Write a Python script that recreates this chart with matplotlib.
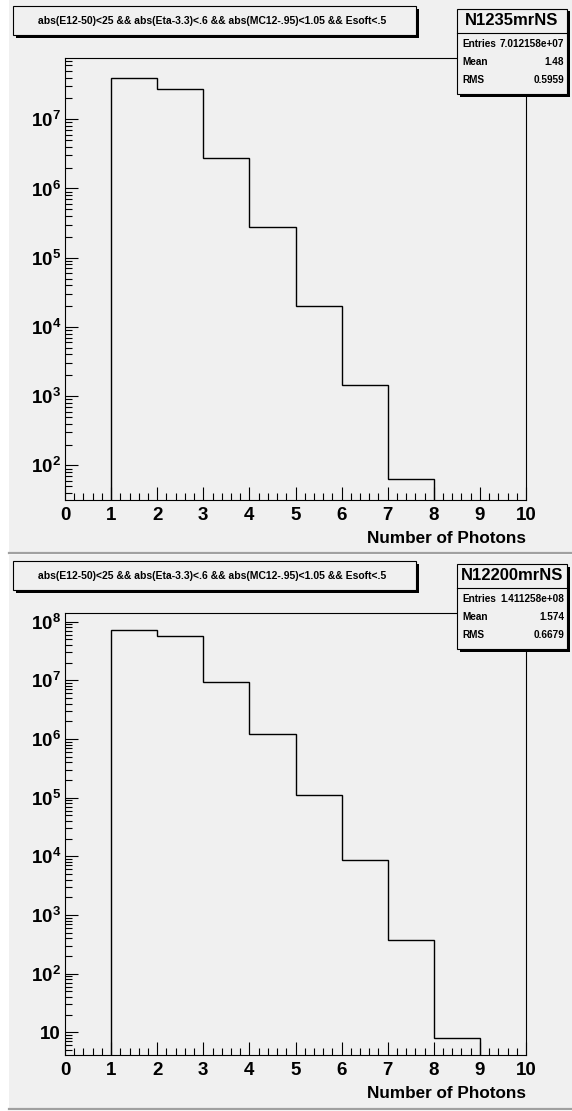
import matplotlib
matplotlib.use('Agg')
import matplotlib.pyplot as plt
from matplotlib.patches import Rectangle
from matplotlib.lines import Line2D
import matplotlib.ticker as mticker
import numpy as np

plt.rcParams['font.family'] = ['Liberation Sans', 'DejaVu Sans']
plt.rcParams['font.weight'] = 'bold'
plt.rcParams['mathtext.fontset'] = 'custom'
plt.rcParams['mathtext.rm'] = 'Liberation Sans:bold'
plt.rcParams['mathtext.bf'] = 'Liberation Sans:bold'
plt.rcParams['mathtext.it'] = 'Liberation Sans:bold'
plt.rcParams['mathtext.default'] = 'rm'

# ---------------- data ----------------
cut_title = "abs(E12-50)<25 && abs(Eta-3.3)<.6 && abs(MC12-.95)<1.05 && Esoft<.5"
x_label = "Number of Photons"

top_name = "N1235mrNS"
top_edges = [1, 2, 3, 4, 5, 6, 7, 8]
top_values = [4.0e7, 2.7e7, 2.73e6, 2.8e5, 2.0e4, 1.44e3, 63]
top_stats = [("Entries", "7.012158e+07"), ("Mean", "1.48"), ("RMS", "0.5959")]
top_ylim = (31.6, 7.6e7)
top_decades = [2, 3, 4, 5, 6, 7]

bot_name = "N12200mrNS"
bot_edges = [1, 2, 3, 4, 5, 6, 7, 8, 9]
bot_values = [7.3e7, 5.6e7, 9.5e6, 1.22e6, 1.11e5, 8.8e3, 375, 7.9]
bot_stats = [("Entries", "1.411258e+08"), ("Mean", "1.574"), ("RMS", "0.6679")]
bot_ylim = (4.1, 1.39e8)
bot_decades = [1, 2, 3, 4, 5, 6, 7, 8]

x_range = (0, 10)

# ---------------- layout helpers ----------------
W, H = 572, 1111
fig = plt.figure(figsize=(W / 100, H / 100), dpi=100)
fig.patch.set_facecolor('white')
BG = '#f0f0f0'


def fx(px):
    return px / W


def fy(py):
    return 1 - py / H


def rect(x0, y0, x1, y1, **kw):
    r = Rectangle((fx(x0), fy(y1)), fx(x1) - fx(x0), fy(y0) - fy(y1),
                  transform=fig.transFigure, **kw)
    fig.add_artist(r)
    return r


def hline(x0, x1, y, **kw):
    fig.add_artist(Line2D([fx(x0), fx(x1)], [fy(y), fy(y)],
                          transform=fig.transFigure, **kw))


def log_label(e):
    if e == 1:
        return '10'
    return r'$10^{%d}$' % e


def draw_panel(off, name, edges, values, stats, ylim, decades):
    # pad background and bevel
    rect(9, off + 0, 572, off + 553, facecolor=BG, edgecolor='none', zorder=-5)
    hline(9, 572, off + 553.5, color='#a0a0a0', lw=1.6, zorder=-4)

    ax = fig.add_axes([fx(65), fy(off + 500), fx(526) - fx(65),
                       fy(off + 58.3) - fy(off + 500)])
    ax.set_facecolor(BG)
    ax.stairs(values, edges, baseline=1e-6, color='black', lw=1.0, zorder=3)
    ax.set_yscale('log')
    ax.set_xlim(*x_range)
    ax.set_ylim(*ylim)
    for s in ax.spines.values():
        s.set_linewidth(0.8)
        s.set_color('black')
    ax.xaxis.set_major_locator(mticker.MultipleLocator(1))
    ax.xaxis.set_minor_locator(mticker.MultipleLocator(0.2))
    ax.yaxis.set_major_locator(mticker.FixedLocator([10.0 ** e for e in decades]))
    ax.yaxis.set_major_formatter(mticker.FixedFormatter([log_label(e) for e in decades]))
    minors = [m * 10.0 ** e for e in range(decades[0] - 1, decades[-1] + 1)
              for m in range(2, 10) if ylim[0] <= m * 10.0 ** e <= ylim[1]]
    ax.yaxis.set_minor_locator(mticker.FixedLocator(minors))
    ax.yaxis.set_minor_formatter(mticker.NullFormatter())
    ax.tick_params(which='both', direction='in', top=False, right=False,
                   width=0.8, color='black')
    ax.tick_params(which='major', length=9.5, labelsize=13.5)
    ax.tick_params(which='minor', length=4.8)
    ax.tick_params(axis='x', which='major', pad=5)
    ax.tick_params(axis='y', which='major', pad=3)
    for lab in ax.get_xticklabels() + ax.get_yticklabels():
        lab.set_fontweight('bold')
    ax.text(1.0, -(543 - 500) / 441.7, x_label, transform=ax.transAxes,
            ha='right', va='baseline', fontsize=12.3, fontweight='bold')

    # title box with shadow
    rect(16, off + 9, 419, off + 38, facecolor='black', edgecolor='none', zorder=5)
    rect(13, off + 6, 416, off + 35, facecolor=BG, edgecolor='black', lw=0.8, zorder=6)
    fig.text(fx(212), fy(off + 21), cut_title, ha='center', va='center',
             fontsize=7.5, fontweight='bold', zorder=7)

    # stats box with shadow
    rect(459.5, off + 11.5, 569.5, off + 97, facecolor='black', edgecolor='none', zorder=5)
    rect(456.7, off + 8.7, 566.7, off + 94, facecolor=BG, edgecolor='black', lw=0.8, zorder=6)
    hline(456.7, 566.7, off + 33, color='black', lw=0.8, zorder=7)
    fig.text(fx(511.7), fy(off + 20.5), name, ha='center', va='center',
             fontsize=12.0, fontweight='bold', zorder=7)
    for (lab, val), yy in zip(stats, [44, 62, 80]):
        fig.text(fx(462), fy(off + yy), lab, ha='left', va='center',
                 fontsize=7.2, fontweight='bold', zorder=7)
        fig.text(fx(564), fy(off + yy), val, ha='right', va='center',
                 fontsize=7.2, fontweight='bold', zorder=7)
    return ax


draw_panel(0, top_name, top_edges, top_values, top_stats, top_ylim, top_decades)
draw_panel(555, bot_name, bot_edges, bot_values, bot_stats, bot_ylim, bot_decades)

fig.savefig('out.png', dpi=100, facecolor='white')
